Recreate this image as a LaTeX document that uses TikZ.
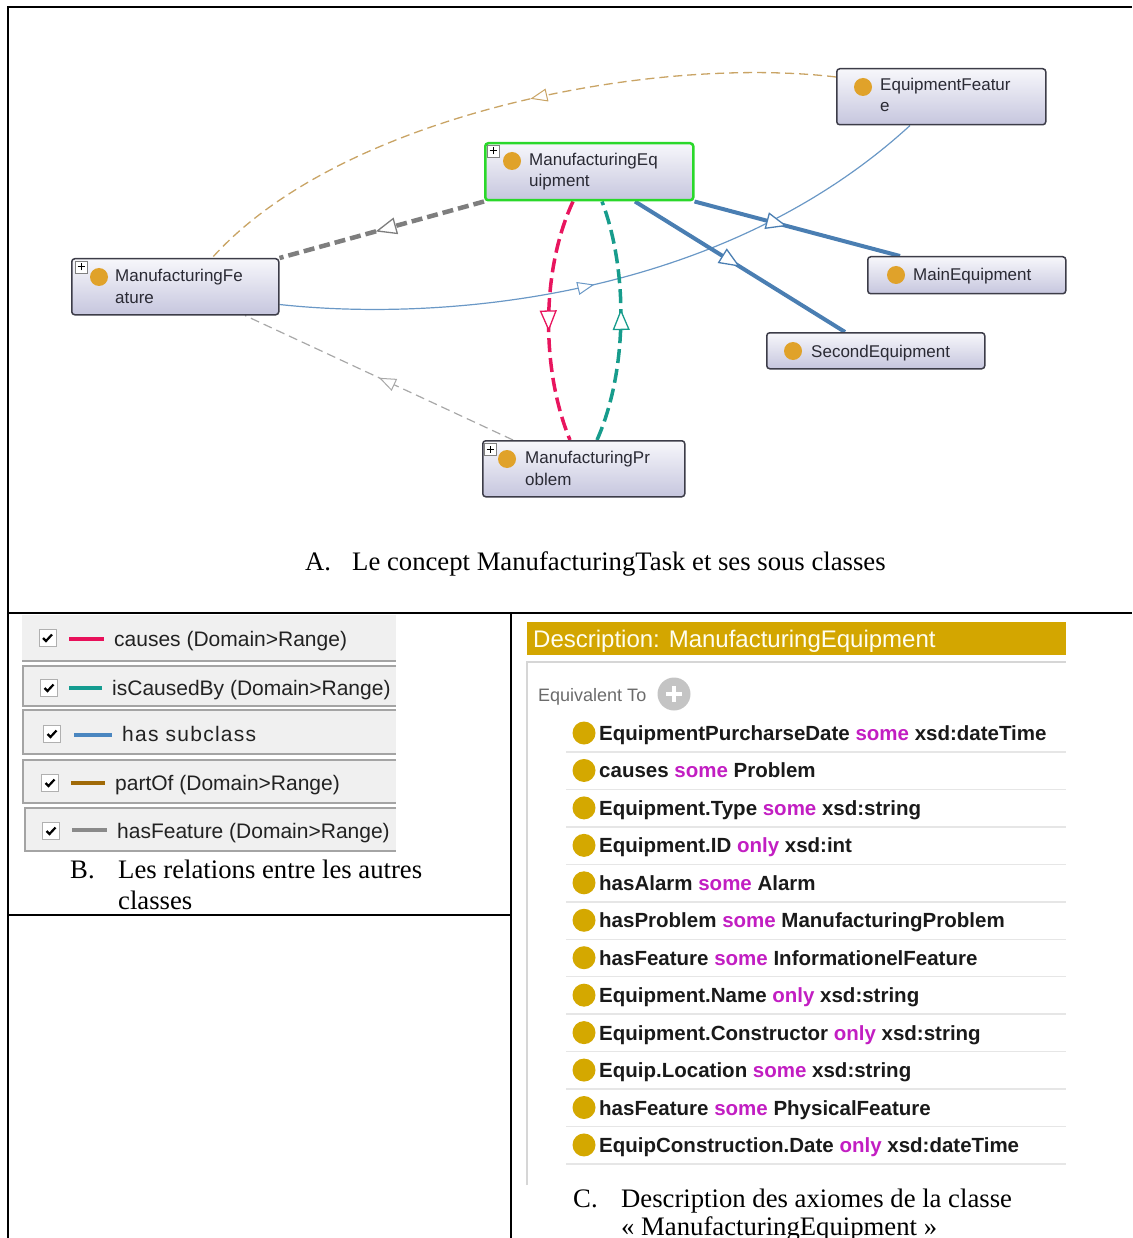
\documentclass[tikz,border=0pt]{standalone}
\usepackage{fontspec}
\setmainfont{Liberation Serif}
\newfontfamily\arial{Liberation Sans}
\usetikzlibrary{arrows.meta,decorations.markings,calc}
\pgfdeclarelayer{bg}
\pgfsetlayers{bg,main}
\definecolor{boxtop}{HTML}{F7F7FB}
\definecolor{boxbot}{HTML}{C6C6DE}
\definecolor{boxline}{HTML}{3C3C48}
\definecolor{megreen}{HTML}{2AD82A}
\definecolor{ndotc}{HTML}{E0A22A}
\definecolor{ntextc}{HTML}{2A2A34}
\definecolor{featgray}{HTML}{7E7E7E}
\definecolor{featthin}{HTML}{A8A8A8}
\definecolor{partofc}{HTML}{C9A465}
\definecolor{subc}{HTML}{4A7EB2}
\definecolor{subthin}{HTML}{6A98C6}
\definecolor{causec}{HTML}{E8155E}
\definecolor{isc}{HTML}{179C8C}
\definecolor{legfill}{HTML}{F0F0F0}
\definecolor{legline}{HTML}{A4A4A4}
\definecolor{chkline}{HTML}{B0B0B0}
\definecolor{legtc}{HTML}{222222}
\definecolor{legpink}{HTML}{E8105A}
\definecolor{legteal}{HTML}{149C90}
\definecolor{legblue}{HTML}{4A86C0}
\definecolor{legbrown}{HTML}{A06A08}
\definecolor{leggray}{HTML}{8A8A8A}
\definecolor{goldbar}{HTML}{D3A600}
\definecolor{gdot}{HTML}{D4A800}
\definecolor{kw}{HTML}{C21EC2}
\definecolor{axtc}{HTML}{1A1A1A}
\definecolor{plusgray}{HTML}{C4C4C4}
\definecolor{panelline}{HTML}{D6D6D6}
\definecolor{sepc}{HTML}{E6E6E6}
\definecolor{iconline}{HTML}{808080}
\begin{document}
\begin{tikzpicture}[x=1pt,y=-1pt,
  frameline/.style={line width=2pt, black},
  cbox/.style={draw=boxline, line width=1.5pt, rounded corners=3pt, top color=boxtop, bottom color=boxbot, anchor=north west, inner sep=0pt},
  ndot/.style={circle, fill=ndotc, minimum size=18pt, inner sep=0pt},
  ntext/.style={anchor=base west, inner sep=0pt, font=\arial\fontsize{17}{20}\selectfont, text=ntextc},
  plusbox/.style={draw=iconline, fill=white, minimum size=12pt, inner sep=0pt, line width=0.8pt,
    path picture={\draw[line width=1pt, black] ([xshift=-3.5pt]path picture bounding box.center) -- ([xshift=3.5pt]path picture bounding box.center) ([yshift=-3.5pt]path picture bounding box.center) -- ([yshift=3.5pt]path picture bounding box.center);}},
  midtri/.style={postaction={decorate, decoration={markings, mark=at position #1 with {\arrow{Triangle[length=21pt, width=17pt, fill=white, line width=1.3pt]}}}}},
  midtrithin/.style={postaction={decorate, decoration={markings, mark=at position #1 with {\arrow{Triangle[length=17pt, width=13pt, fill=white, line width=1pt]}}}}},
  hasfeat/.style={draw=featgray, line width=4.5pt, dash pattern=on 11pt off 5pt},
  partof/.style={draw=partofc, line width=1.3pt, dash pattern=on 9pt off 5pt},
  subcl/.style={draw=subc, line width=4pt},
  subcthin/.style={draw=subthin, line width=1.2pt},
  causesl/.style={draw=causec, line width=3.5pt, dash pattern=on 14pt off 6pt},
  iscausedl/.style={draw=isc, line width=3.5pt, dash pattern=on 14pt off 6pt},
  featthinl/.style={draw=featthin, line width=1.2pt, dash pattern=on 9pt off 5pt},
  captxt/.style={anchor=base west, inner sep=0pt, font=\fontsize{26.7}{30}\selectfont, text=black},
  legtext/.style={anchor=base west, inner sep=0pt, font=\arial\fontsize{21}{24}\selectfont, text=legtc},
  chk/.style={draw=chkline, fill=white, minimum size=17pt, inner sep=0pt, line width=1pt,
    path picture={\draw[line width=2.2pt, black, line join=miter] ([xshift=-4.5pt]path picture bounding box.center) -- ([xshift=-1.5pt,yshift=-3pt]path picture bounding box.center) -- ([xshift=4.5pt,yshift=3.5pt]path picture bounding box.center);}},
  legbox/.style={draw=legline, line width=1.5pt},
  axdot/.style={circle, fill=gdot, minimum size=23pt, inner sep=0pt},
  axtext/.style={anchor=base west, inner sep=0pt, font=\arial\bfseries\fontsize{20.5}{24}\selectfont, text=axtc},
  sepline/.style={draw=sepc, line width=1.5pt}
]
\useasboundingbox (0,0) rectangle (1132,1238);
% ---------- frame ----------
\draw[frameline] (8,1238) -- (8,7) -- (1132,7);
\draw[frameline] (8,613) -- (1132,613);
\draw[frameline] (511,613) -- (511,1238);
\draw[frameline] (8,915) -- (511,915);

% ---------- graph boxes ----------
\node[cbox, draw=megreen, line width=2.5pt, minimum width=208pt, minimum height=57pt] (me) at (484,142) {};
\node[cbox, minimum width=209pt, minimum height=56pt] (ef) at (836,68) {};
\node[cbox, minimum width=207pt, minimum height=56pt] (mf) at (71,258) {};
\node[cbox, minimum width=198pt, minimum height=37pt] (main) at (867,256) {};
\node[cbox, minimum width=218pt, minimum height=36pt] (sec) at (766,332) {};
\node[cbox, minimum width=202pt, minimum height=56pt] (mp) at (482,440) {};

\node[plusbox] (me-p) at (493,151) {};
\node[plusbox] (mf-p) at (81,267) {};
\node[plusbox] (mp-p) at (490,449) {};

\node[ndot] (me-d) at (512,161) {};
\node[ndot] (ef-d) at (863,87) {};
\node[ndot] (mf-d) at (99,277) {};
\node[ndot] (main-d) at (896,275) {};
\node[ndot] (sec-d) at (793,351) {};
\node[ndot] (mp-d) at (507,459) {};

\node[ntext] (me-t1) at (529,166) {ManufacturingEq};
\node[ntext] (me-t2) at (529,187) {uipment};
\node[ntext] (ef-t1) at (880,91) {EquipmentFeatur};
\node[ntext] (ef-t2) at (880,112) {e};
\node[ntext] (mf-t1) at (115,282) {ManufacturingFe};
\node[ntext] (mf-t2) at (115,303) {ature};
\node[ntext] (mp-t1) at (525,463) {ManufacturingPr};
\node[ntext] (mp-t2) at (525,485) {oblem};
\node[ntext] (main-t) at (913,280) {MainEquipment};
\node[ntext] (sec-t) at (811,357) {SecondEquipment};

% ---------- graph edges ----------
\begin{pgfonlayer}{bg}
\draw[partof, midtrithin=0.46] ([yshift=-9pt]ef.north west) .. controls (650,55) and (340,115) .. ([xshift=141pt]mf.north west);
\draw[hasfeat, midtri=0.53] (me.south west) -- (mf.north east);
\draw[subcthin, midtrithin=0.47] ([yshift=11pt]mf.south east) .. controls (440,322) and (720,300) .. ([xshift=74pt]ef.south west);
\draw[subcl, midtri=0.45] (me.south east) -- ([xshift=33pt]main.north west);
\draw[subcl, midtri=0.5] ([xshift=151pt]me.south west) -- ([xshift=79pt]sec.north west);
\draw[causesl, midtri=0.545] ([xshift=89pt]me.south west) .. controls (541,270) and (541,370) .. ([xshift=88pt]mp.north west);
\draw[iscausedl, midtri=0.55] ([xshift=115pt]mp.north west) .. controls (628,370) and (628,270) .. ([xshift=118pt]me.south west);
\draw[featthinl, midtrithin=0.5] ([xshift=31pt]mp.north west) -- ([xshift=174pt]mf.south west);
\end{pgfonlayer}

% ---------- caption A ----------
\node[captxt] (capA-l) at (305,570) {A.};
\node[captxt] (capA) at (352,570) {Le concept ManufacturingTask et ses sous classes};

% ---------- legend B ----------
\fill[legfill] (22,615) rectangle (396,661);
\draw[legbox] (22,661) -- (396,661);
\fill[legfill] (23,666) rectangle (396,706);
\draw[legbox] (396,666) -- (23,666) -- (23,706) -- (396,706);
\fill[legfill] (23,710) rectangle (396,754);
\draw[legbox] (396,710) -- (23,710) -- (23,754) -- (396,754);
\fill[legfill] (23,760) rectangle (396,803);
\draw[legbox] (396,760) -- (23,760) -- (23,803) -- (396,803);
\fill[legfill] (25,808) rectangle (396,851);
\draw[legbox] (396,808) -- (25,808) -- (25,851) -- (396,851);

\node[chk] (c1) at (47.5,638) {};
\node[chk] (c2) at (49,688) {};
\node[chk] (c3) at (52,734) {};
\node[chk] (c4) at (50,783) {};
\node[chk] (c5) at (51,831) {};

\draw[legpink, line width=4pt] (69,639) -- (104,639);
\draw[legteal, line width=4pt] (69,688) -- (102,688);
\draw[legblue, line width=4pt] (74,735) -- (112,735);
\draw[legbrown, line width=4pt] (71,783) -- (105,783);
\draw[leggray, line width=4pt] (72,830) -- (107,830);

\node[legtext] (l1) at (114,646) {causes (Domain>Range)};
\node[legtext] (l2) at (112,695) {isCausedBy (Domain>Range)};
\node[legtext, font=\arial\fontsize{21}{24}\selectfont\addfontfeature{LetterSpace=6}] (l3) at (122,741) {has subclass};
\node[legtext] (l4) at (115,790) {partOf (Domain>Range)};
\node[legtext] (l5) at (117,838) {hasFeature (Domain>Range)};

\node[captxt] (capB-l) at (70,878) {B.};
\node[captxt] (capB1) at (118,878) {Les relations entre les autres};
\node[captxt] (capB2) at (118,909) {classes};

% ---------- description C ----------
\fill[goldbar] (527,622) rectangle (1066,655);
\node[anchor=base west, inner sep=0pt, font=\arial\fontsize{24}{28}\selectfont, text=white!94!yellow] (desc) at (533,647) {Description: ManufacturingEquipment};
\draw[panelline, line width=1.5pt] (527,1185) -- (527,662) -- (1066,662);
\node[anchor=base west, inner sep=0pt, font=\arial\fontsize{18}{22}\selectfont, text=black!58] (equiv) at (538,701) {Equivalent To};
\node[circle, fill=plusgray, minimum size=33pt, inner sep=0pt,
  path picture={\draw[white, line width=3.5pt] ([xshift=-8pt]path picture bounding box.center) -- ([xshift=8pt]path picture bounding box.center) ([yshift=-8pt]path picture bounding box.center) -- ([yshift=8pt]path picture bounding box.center);}] (eqplus) at (674,694) {};

\foreach \a/\k/\b [count=\i from 0] in {
  EquipmentPurcharseDate/some/xsd:dateTime,
  causes/some/Problem,
  Equipment.Type/some/xsd:string,
  Equipment.ID/only/xsd:int,
  hasAlarm/some/Alarm,
  hasProblem/some/ManufacturingProblem,
  hasFeature/some/InformationelFeature,
  Equipment.Name/only/xsd:string,
  Equipment.Constructor/only/xsd:string,
  Equip.Location/some/xsd:string,
  hasFeature/some/PhysicalFeature,
  EquipConstruction.Date/only/xsd:dateTime}{
  \pgfmathsetmacro\yy{733+37.45*\i}
  \draw[sepline] (566,\yy+19) -- (1066,\yy+19);
  \node[axdot] (ax-d\i) at (584,\yy) {};
  \node[axtext] (ax-t\i) at (599,\yy+7.5) {\a{} \textcolor{kw}{\k} \b};
}

\node[captxt] (capC-l) at (573,1207) {C.};
\node[captxt] (capC1) at (621,1207) {Description des axiomes de la classe};
\node[captxt] (capC2) at (621,1235) {« ManufacturingEquipment »};
\end{tikzpicture}
\end{document}
